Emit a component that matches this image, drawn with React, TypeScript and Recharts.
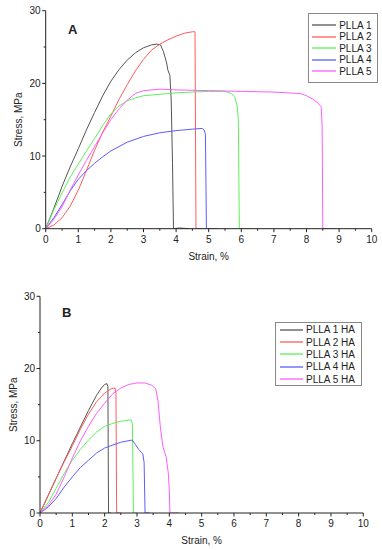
import { LineChart, Line, XAxis, YAxis, Legend } from 'recharts'

// Panel A — neat PLLA samples
const plla1X = [0, 0.25, 0.5, 0.75, 1, 1.25, 1.5, 1.75, 2, 2.25, 2.5, 2.75, 3, 3.25, 3.4, 3.52, 3.61, 3.71, 3.75, 3.81, 3.85, 3.89, 3.92, 4.1, 4.4]
const plla1Y = [0, 2.8, 5.8, 8.5, 11, 13.6, 16, 18.3, 20.3, 21.9, 23.2, 24.2, 24.9, 25.3, 25.4, 25.3, 24.4, 22.8, 21.8, 21.1, 17.7, 9, 0, 0.1, 0]
const plla2X = [0, 0.25, 0.5, 0.75, 1, 1.25, 1.5, 1.75, 2, 2.25, 2.5, 2.75, 3, 3.25, 3.5, 3.75, 4, 4.25, 4.5, 4.58, 4.61, 4.8]
const plla2Y = [0, 0.5, 1.5, 3.1, 5.3, 8, 10.8, 13.3, 15.5, 17.8, 19.8, 21.7, 23.3, 24.6, 25.4, 26, 26.5, 26.9, 27.1, 27.1, 0, 0]
const plla3X = [0, 0.25, 0.5, 0.75, 1, 1.25, 1.5, 1.75, 2, 2.25, 2.5, 2.75, 3, 3.5, 4, 4.5, 5, 5.5, 5.7, 5.8, 5.87, 5.91, 5.94, 6.3]
const plla3Y = [0, 2.6, 4.9, 7.1, 8.9, 10.7, 12.4, 14.2, 15.8, 16.9, 17.6, 18, 18.3, 18.5, 18.7, 18.8, 18.9, 18.9, 18.6, 18.1, 17, 15, 0, 0]
const plla4X = [0, 0.25, 0.5, 0.75, 1, 1.25, 1.5, 1.75, 2, 2.5, 3, 3.5, 4, 4.5, 4.8, 4.86, 4.9, 4.93, 5.25]
const plla4Y = [0, 1.5, 3.3, 5.2, 6.8, 8, 9, 9.9, 10.7, 11.9, 12.7, 13.2, 13.5, 13.7, 13.8, 13.6, 13, 0, 0]
const plla5X = [0, 0.25, 0.5, 0.75, 1, 1.25, 1.5, 1.75, 2, 2.25, 2.5, 2.75, 3, 3.5, 4, 5, 6, 7, 7.8, 8, 8.2, 8.35, 8.45, 8.48, 8.5, 8.9]
const plla5Y = [0, 1.3, 3, 5.3, 7.4, 9.4, 11.3, 13.2, 15, 16.5, 17.7, 18.6, 19, 19.2, 19.1, 19, 18.9, 18.8, 18.6, 18.3, 17.8, 17.3, 16.8, 14, 0, 0]

// Panel B — PLLA + HA samples
const ha1X = [0, 0.25, 0.5, 0.75, 1, 1.25, 1.5, 1.75, 1.9, 2, 2.07, 2.1, 2.12, 2.2]
const ha1Y = [0, 2.4, 4.8, 7.2, 9.6, 11.9, 14.2, 16.3, 17.3, 17.8, 17.9, 17.5, 0, 0]
const ha2X = [0, 0.25, 0.5, 0.75, 1, 1.25, 1.5, 1.75, 2, 2.2, 2.32, 2.35, 2.37, 2.5]
const ha2Y = [0, 2.4, 4.8, 7.1, 9.3, 11.6, 13.7, 15.4, 16.6, 17.2, 17.3, 16.5, 0, 0]
const ha3X = [0, 0.25, 0.5, 0.75, 1, 1.25, 1.5, 1.75, 2, 2.25, 2.5, 2.82, 2.86, 2.89, 3.0]
const ha3Y = [0, 1.4, 3.4, 5.5, 7.3, 8.8, 10.1, 11.2, 12, 12.4, 12.7, 12.9, 12.3, 0, 0]
const ha4X = [0, 0.25, 0.5, 0.75, 1, 1.25, 1.5, 1.75, 2, 2.5, 2.85, 2.95, 3.05, 3.18, 3.22, 3.25, 3.4]
const ha4Y = [0, 0.8, 2, 3.6, 5, 6.3, 7.3, 8.3, 9, 9.8, 10.1, 9.5, 8.8, 8.2, 7, 0, 0]
const ha5X = [0, 0.25, 0.5, 0.75, 1, 1.25, 1.5, 1.75, 2, 2.25, 2.5, 2.75, 3, 3.25, 3.45, 3.58, 3.65, 3.72, 3.8, 3.9, 3.97, 4.0, 4.02, 4.3]
const ha5Y = [0, 1, 2.6, 5, 7.6, 10, 12, 13.8, 15.2, 16.5, 17.3, 17.8, 18, 18, 17.7, 17.2, 15.5, 12, 9.2, 7.8, 5.5, 3, 0, 0]

const namesA = ['PLLA 1', 'PLLA 2', 'PLLA 3', 'PLLA 4', 'PLLA 5']
const namesB = ['PLLA 1 HA', 'PLLA 2 HA', 'PLLA 3 HA', 'PLLA 4 HA', 'PLLA 5 HA']
const colors = ['#555555', '#ff5c5c', '#5cf05c', '#5c5cff', '#ff5cff']

const xTicks = [0, 0.5, 1, 1.5, 2, 2.5, 3, 3.5, 4, 4.5, 5, 5.5, 6, 6.5, 7, 7.5, 8, 8.5, 9, 9.5, 10]
const yTicks = [0, 5, 10, 15, 20, 25, 30]

const FONT = '"Liberation Sans", Arial, sans-serif'
const INK = '#222'
const TICK_SIZE = 3
const TICK_MARGIN = 2

const toPoints = (xs: number[], ys: number[]) => xs.map((x, i) => ({ x, y: ys[i] }))

const seriesA = [toPoints(plla1X, plla1Y), toPoints(plla2X, plla2Y), toPoints(plla3X, plla3Y), toPoints(plla4X, plla4Y), toPoints(plla5X, plla5Y)]
const seriesB = [toPoints(ha1X, ha1Y), toPoints(ha2X, ha2Y), toPoints(ha3X, ha3Y), toPoints(ha4X, ha4Y), toPoints(ha5X, ha5Y)]

const XTick = (props: any) => {
  const { x, y, payload } = props
  const major = Number.isInteger(payload.value)
  const axisY = y - TICK_SIZE - TICK_MARGIN
  return (
    <g>
      <line x1={x} x2={x} y1={axisY} y2={axisY + (major ? 3.5 : 2)} stroke={INK} />
      {major && (
        <text x={x} y={axisY + 14} textAnchor="middle" fontSize={10} fill={INK} fontFamily={FONT}>
          {payload.value}
        </text>
      )}
    </g>
  )
}

const YTick = (props: any) => {
  const { x, y, payload } = props
  const major = payload.value % 10 === 0
  const axisX = x + TICK_SIZE + TICK_MARGIN
  return (
    <g>
      <line x1={axisX - (major ? 3.5 : 2)} x2={axisX} y1={y} y2={y} stroke={INK} />
      {major && (
        <text x={axisX - 5} y={y + 3.6} textAnchor="end" fontSize={10} fill={INK} fontFamily={FONT}>
          {payload.value}
        </text>
      )}
    </g>
  )
}

const makeLegend = (lineW: number, rowH: number, pad: string) => (props: any) => (
  <div style={{ border: '1px solid #888', background: '#fff', padding: pad, fontFamily: FONT }}>
    {props.payload.map((p: any) => (
      <div key={p.value} style={{ display: 'flex', alignItems: 'center', height: rowH, fontSize: 10, color: INK, whiteSpace: 'nowrap' }}>
        <svg width={lineW} height={4} style={{ display: 'block' }}>
          <line x1={0} y1={2} x2={lineW} y2={2} stroke={p.color} strokeWidth={1.3} />
        </svg>
        <span style={{ marginLeft: 3 }}>{p.value}</span>
      </div>
    ))}
  </div>
)

interface PanelProps {
  series: { x: number; y: number }[][]
  names: string[]
  margin: { top: number; right: number; bottom: number; left: number }
  yAxisWidth: number
  xAxisHeight: number
  xLabelOffset: number
  yLabelOffset: number
  legendPos: { left: number; top: number }
  legend: (props: any) => any
}

function Panel({ series, names, margin, yAxisWidth, xAxisHeight, xLabelOffset, yLabelOffset, legendPos, legend }: PanelProps) {
  return (
    <LineChart width={382} height={275} margin={margin}>
      <XAxis
        type="number"
        dataKey="x"
        domain={[0, 10]}
        ticks={xTicks}
        interval={0}
        height={xAxisHeight}
        tickSize={TICK_SIZE}
        tickMargin={TICK_MARGIN}
        tickLine={false}
        tick={<XTick />}
        stroke={INK}
        allowDataOverflow
        label={{ value: 'Strain, %', position: 'insideBottom', offset: xLabelOffset, fontSize: 10, fill: INK, fontFamily: FONT }}
      />
      <YAxis
        type="number"
        domain={[0, 30]}
        ticks={yTicks}
        interval={0}
        width={yAxisWidth}
        tickSize={TICK_SIZE}
        tickMargin={TICK_MARGIN}
        tickLine={false}
        tick={<YTick />}
        stroke={INK}
        allowDataOverflow
        label={{ value: 'Stress, MPa', angle: -90, position: 'insideLeft', offset: yLabelOffset, fontSize: 10, fill: INK, fontFamily: FONT, style: { textAnchor: 'middle' } }}
      />
      {series.map((data, i) => (
        <Line
          key={names[i]}
          data={data}
          dataKey="y"
          name={names[i]}
          type="linear"
          stroke={colors[i]}
          strokeWidth={1}
          dot={false}
          activeDot={false}
          isAnimationActive={false}
        />
      ))}
      <Legend
        layout="vertical"
        align="center"
        verticalAlign="middle"
        content={legend}
        wrapperStyle={{ left: legendPos.left, top: legendPos.top, width: 'auto', height: 'auto' }}
      />
    </LineChart>
  )
}

export default function App() {
  return (
    <div style={{ position: 'absolute', left: 0, top: 0, width: 382, height: 550, background: '#fff', fontFamily: FONT }}>
      <div style={{ position: 'absolute', left: 0, top: 0 }}>
        <Panel
          series={seriesA}
          names={namesA}
          margin={{ top: 10.7, right: 10.3, bottom: 0, left: 0 }}
          yAxisWidth={45.7}
          xAxisHeight={46.3}
          xLabelOffset={15}
          yLabelOffset={18}
          legendPos={{ left: 307.7, top: 13.3 }}
          legend={makeLegend(24.5, 11.5, '5px 6px 5px 3px')}
        />
        <div style={{ position: 'absolute', left: 68, top: 22, fontSize: 13, fontWeight: 'bold', color: INK }}>A</div>
      </div>
      <div style={{ position: 'absolute', left: 0, top: 275 }}>
        <Panel
          series={seriesB}
          names={namesB}
          margin={{ top: 21.3, right: 18.7, bottom: 0, left: 0 }}
          yAxisWidth={40}
          xAxisHeight={37}
          xLabelOffset={6}
          yLabelOffset={13}
          legendPos={{ left: 275, top: 46.7 }}
          legend={makeLegend(23, 12.3, '1px 6px 0px 4px')}
        />
        <div style={{ position: 'absolute', left: 62, top: 30, fontSize: 13, fontWeight: 'bold', color: INK }}>B</div>
      </div>
    </div>
  )
}
